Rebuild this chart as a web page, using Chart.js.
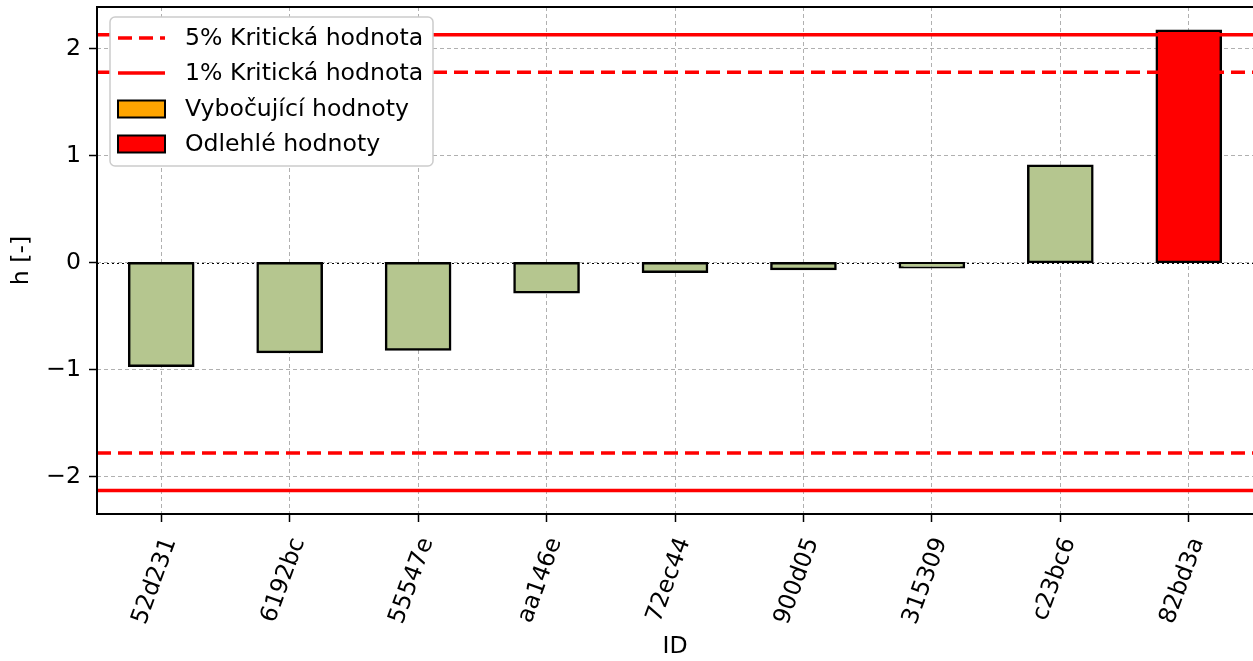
<!DOCTYPE html>
<html>
<head>
<meta charset="utf-8">
<script src="https://cdn.jsdelivr.net/npm/chart.js@4"></script>
<style>
  html, body { margin: 0; padding: 0; background: #fff; overflow: hidden; }
  #wrap { width: 1253px; height: 661px; position: relative; }
</style>
</head>
<body>
<div id="wrap"><canvas id="hChart"></canvas></div>
<script>
// --- Data ---
const ids = ['52d231', '6192bc', '55547e', 'aa146e', '72ec44', '900d05', '315309', 'c23bc6', '82bd3a'];
const hValues = [-0.965, -0.835, -0.813, -0.278, -0.085, -0.059, -0.044, 0.907, 2.168];
const crit5 = 1.78;
const crit1 = 2.13;
const yTicks = [-2, -1, 0, 1, 2];
const legendLabels = ['5% Kritická hodnota', '1% Kritická hodnota', 'Vybočující hodnoty', 'Odlehlé hodnoty'];

// --- Style ---
const FONT = 'DejaVu Sans';
const FS = 23.6;
const GREEN = '#b5c68f';
const ORANGE = '#ffa500';
const RED = '#ff0000';

const barColor = v => Math.abs(v) > crit1 ? RED : (Math.abs(v) > crit5 ? ORANGE : GREEN);
const fmt = v => (v < 0 ? '\u2212' + Math.abs(v) : String(v));

// critical lines, zero line, spines and legend
const overlayPlugin = {
    id: 'overlay',
    beforeDatasetsDraw(chart) {
        const { ctx, chartArea: a, scales: { y } } = chart;
        ctx.save();
        ctx.strokeStyle = '#000';
        ctx.lineWidth = 1;
        ctx.setLineDash([2, 3]);
        const y0 = Math.round(y.getPixelForValue(0)) + 0.5;
        ctx.beginPath(); ctx.moveTo(a.left, y0); ctx.lineTo(a.right, y0); ctx.stroke();
        ctx.restore();
    },
    afterDatasetsDraw(chart) {
        const { ctx, chartArea: a, scales: { y } } = chart;
        ctx.save();
        ctx.strokeStyle = RED;
        ctx.lineWidth = 3.5;
        [[crit5, [14, 7]], [-crit5, [14, 7]], [crit1, []], [-crit1, []]].forEach(([v, dash]) => {
            const py = y.getPixelForValue(v);
            ctx.setLineDash(dash);
            ctx.beginPath(); ctx.moveTo(a.left, py); ctx.lineTo(a.right, py); ctx.stroke();
        });
        ctx.setLineDash([]);
        // spines
        ctx.strokeStyle = '#000';
        ctx.lineWidth = 2;
        ctx.beginPath();
        ctx.moveTo(a.right, a.top); ctx.lineTo(a.left, a.top);
        ctx.lineTo(a.left, a.bottom); ctx.lineTo(a.right, a.bottom);
        ctx.stroke();

        // legend box
        const lx = 110, ly = 17, lw = 323, lh = 149;
        ctx.fillStyle = '#fff';
        ctx.strokeStyle = '#cccccc';
        ctx.lineWidth = 1.5;
        ctx.beginPath();
        ctx.roundRect(lx, ly, lw, lh, 5);
        ctx.fill(); ctx.stroke();

        const rowY = [38, 73, 109, 144];
        ctx.font = FS + 'px "' + FONT + '"';
        ctx.textBaseline = 'middle';
        ctx.textAlign = 'left';
        rowY.forEach((ry, i) => {
            if (i < 2) {
                ctx.strokeStyle = RED;
                ctx.lineWidth = 3.5;
                ctx.setLineDash(i === 0 ? [14, 7] : []);
                ctx.beginPath(); ctx.moveTo(118, ry); ctx.lineTo(165, ry); ctx.stroke();
                ctx.setLineDash([]);
            } else {
                ctx.fillStyle = i === 2 ? ORANGE : RED;
                ctx.strokeStyle = '#000';
                ctx.lineWidth = 2;
                ctx.fillRect(118, ry - 8.5, 47, 17);
                ctx.strokeRect(118, ry - 8.5, 47, 17);
            }
            ctx.fillStyle = '#000';
            ctx.fillText(legendLabels[i], 185, ry + 1);
        });
        ctx.restore();
    }
};

// --- Chart ---
const ctx = document.getElementById('hChart').getContext('2d');
const hChart = new Chart(ctx, {
    type: 'bar',
    data: {
        labels: ids,
        datasets: [{
            label: 'h',
            data: hValues,
            backgroundColor: hValues.map(barColor),
            borderColor: '#000',
            borderWidth: 2.5,
            borderSkipped: false,
            inflateAmount: 1.2,
            barPercentage: 0.5,
            categoryPercentage: 1.0
        }]
    },
    options: {
        responsive: true,
        maintainAspectRatio: false,
        animation: false,
        devicePixelRatio: 1,
        layout: { padding: { top: 7, right: 0, left: 0, bottom: 0 } },
        plugins: {
            legend: { display: false },
            tooltip: { enabled: false }
        },
        scales: {
            x: {
                offset: true,
                afterFit: s => { s.height = 147; s.paddingLeft = 0; s.paddingRight = 0; },
                grid: { display: true, offset: false, color: '#b0b0b0', lineWidth: 1, tickColor: '#000', tickLength: 8, tickWidth: 1.5 },
                border: { display: false, dash: [4, 3] },
                ticks: {
                    color: '#000', font: { family: FONT, size: FS }, maxRotation: 70, minRotation: 70,
                    padding: 12, labelOffset: 9, autoSkip: false
                },
                title: { display: true, text: 'ID', color: '#000', font: { family: FONT, size: FS }, padding: { top: 0, bottom: 0 } }
            },
            y: {
                min: -2.35,
                max: 2.39,
                afterFit: s => { s.width = 97; s.paddingTop = 0; s.paddingBottom = 0; },
                afterBuildTicks: s => { s.ticks = yTicks.map(v => ({ value: v })); },
                grid: { color: '#b0b0b0', lineWidth: 1, tickColor: '#000', tickLength: 8, tickWidth: 1.5 },
                border: { display: false, dash: [4, 3] },
                ticks: { color: '#000', font: { family: FONT, size: FS }, padding: 8, callback: v => fmt(v) },
                title: { display: true, text: 'h [-]', color: '#000', font: { family: FONT, size: FS }, padding: { top: 8, bottom: 4 } }
            }
        }
    },
    plugins: [overlayPlugin]
});
</script>
</body>
</html>
